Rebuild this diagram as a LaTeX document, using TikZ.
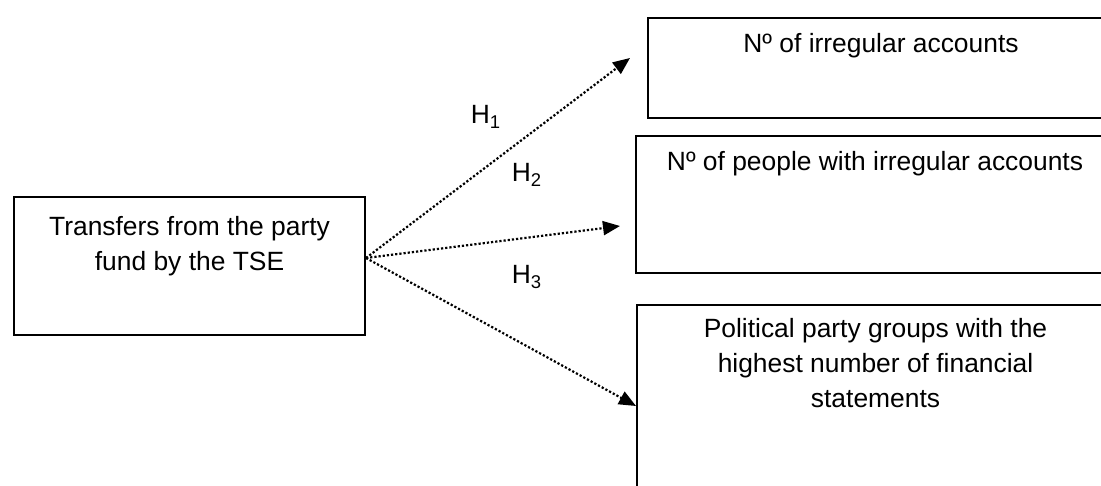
\documentclass[tikz,border=0pt]{standalone}
\usepackage{fontspec}
\setmainfont{Liberation Sans}
\usetikzlibrary{arrows.meta,positioning}

\begin{document}
\begin{tikzpicture}[x=0.5pt,y=-0.5pt,>={Triangle[length=8.5pt,width=7pt]},
  font=\fontsize{13.2}{17.5}\selectfont,
  box/.style={draw,line width=1pt,rectangle,anchor=north west,inner sep=0pt},
  boxtext/.style 2 args={label={[anchor=north,yshift=#1,align=center]north:{#2}}},
  hyp/.style={->,dash pattern=on 1.1pt off 1pt,line width=1.1pt}]
  \clip (0,0) rectangle (1101,486);

  \node[box,minimum width=175.5pt,minimum height=69pt,
    boxtext={-6.5pt}{Transfers from the party\\fund by the TSE}] (transfers) at (13,196) {};
  \node[box,minimum width=233pt,minimum height=50pt,
    boxtext={-4.5pt}{Nº of irregular accounts}] (irreg) at (647,17) {};
  \node[box,minimum width=239pt,minimum height=68.5pt,
    boxtext={-4.5pt}{Nº of people with irregular accounts}] (people)
    [below right=8pt and -6pt of irreg.south west] {};
  \node[box,minimum width=238.5pt,minimum height=100pt,
    boxtext={-3.5pt}{Political party groups with the\\highest number of financial\\statements}] (groups)
    [below right=15pt and 0.5pt of people.south west] {};

  \coordinate (src) at ([yshift=4pt]transfers.east);
  \draw[hyp] (src) -- ([xshift=-8.5pt,yshift=5pt]irreg.west);
  \draw[hyp] (src) -- ([xshift=-7.5pt,yshift=-10.75pt]people.west);
  \draw[hyp] (src) -- ([yshift=-51pt]groups.north west);

  % hypotheses
  \node (h1) at (486,117) {H\textsubscript{1}};
  \node (h2) at (527,175) {H\textsubscript{2}};
  \node (h3) at (527,277) {H\textsubscript{3}};
\end{tikzpicture}
\end{document}
